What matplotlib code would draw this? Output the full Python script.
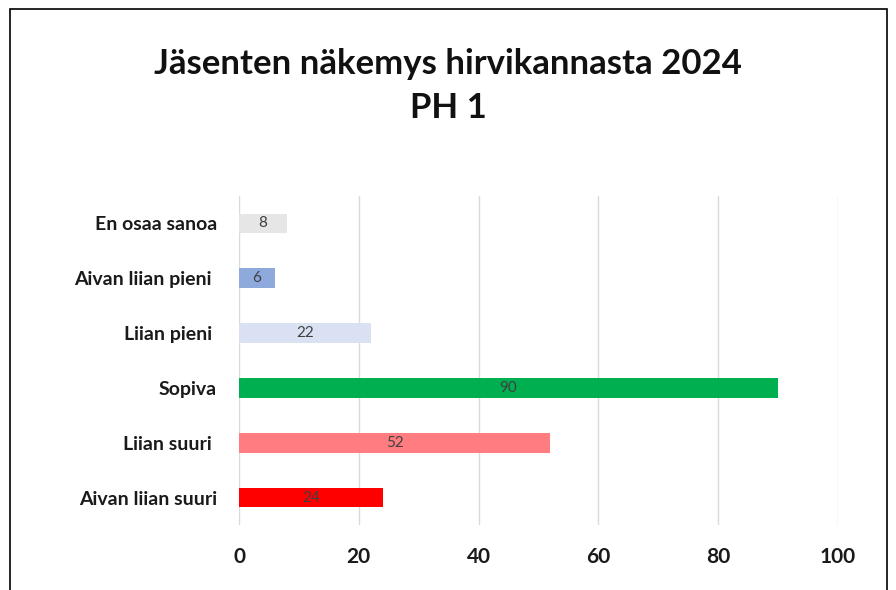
import matplotlib
matplotlib.use("Agg")
import matplotlib.pyplot as plt
from matplotlib.patches import Rectangle

categories = ["En osaa sanoa", "Aivan liian pieni ", "Liian pieni ", "Sopiva", "Liian suuri ", "Aivan liian suuri"]
values = [8, 6, 22, 90, 52, 24]
colors = ["#E7E6E6", "#8EA9DB", "#D9E1F2", "#00B050", "#FF7C80", "#FF0000"]
xticks = [0, 20, 40, 60, 80, 100]
title = "Jäsenten näkemys hirvikannasta 2024\nPH 1"

plt.rcParams['font.family'] = ['Lato', 'DejaVu Sans']

fig = plt.figure(figsize=(8.96, 5.90), dpi=100)
fig.patch.set_facecolor("white")
fig.add_artist(Rectangle((10/896, -0.05), 877/896, 1 - 9/590 + 0.05, transform=fig.transFigure,
                         fill=False, edgecolor="black", linewidth=1.2))

ax = fig.add_axes([239/896, 1 - 525/590, 599/896, 329/590])
ypos = list(range(len(categories)))
ax.barh(ypos, values, height=0.36, color=colors, zorder=3)
for y, v in zip(ypos, values):
    ax.text(v / 2, y, str(v), ha="center", va="center", fontsize=11, color="#404040", zorder=4)

ax.set_ylim(len(categories) - 0.5, -0.5)
ax.set_xlim(0, 100)
ax.set_yticks(ypos)
ax.set_yticklabels(categories, fontsize=14, fontweight="bold", color="#1a1a1a")
ax.set_xticks(xticks)
ax.set_xticklabels([str(t) for t in xticks], fontsize=15, fontweight="bold", color="#1a1a1a")
ax.tick_params(axis="y", length=0, pad=16)
ax.tick_params(axis="x", length=0, pad=16)
ax.grid(axis="x", color="#D9D9D9", linewidth=1, zorder=0)
for s in ax.spines.values():
    s.set_visible(False)

fig.text(0.5, 1 - 86/590, title, ha="center", va="center", fontsize=25, fontweight="bold",
         linespacing=1.45, color="#111111")

fig.savefig("out.png", dpi=100, facecolor="white")
